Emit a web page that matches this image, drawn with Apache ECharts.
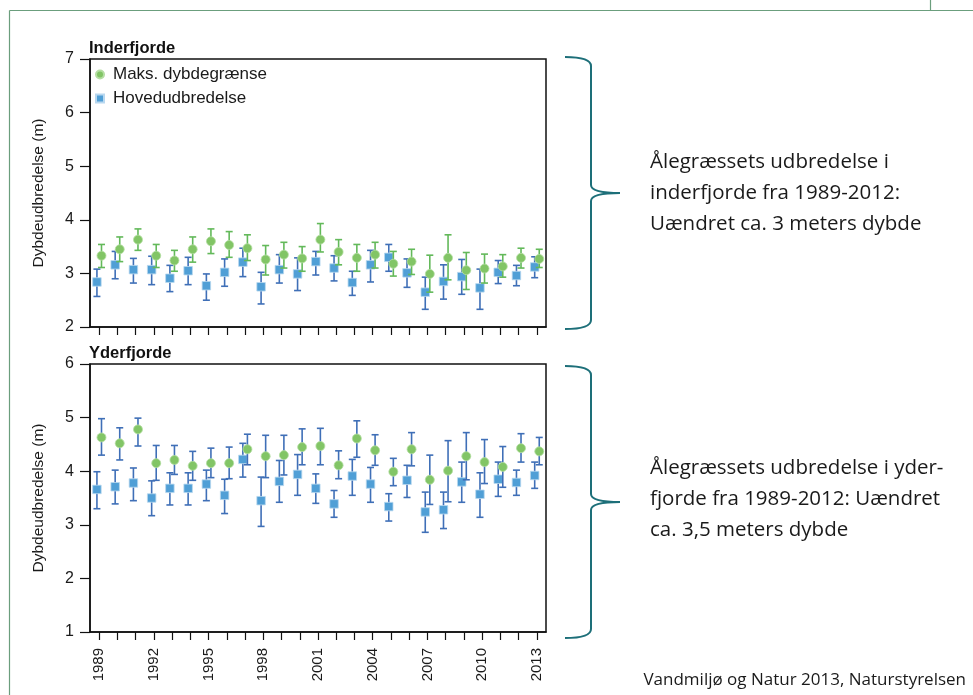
<!DOCTYPE html>
<html>
<head>
<meta charset="utf-8">
<script src="https://cdn.jsdelivr.net/npm/echarts@6/dist/echarts.min.js"></script>
<style>
html,body{margin:0;padding:0;background:#fff;}
#chart{width:973px;height:695px;}
</style>
</head>
<body>
<div id="chart"></div>
<script>
// ---- Data ----
var years = [1989,1990,1991,1992,1993,1994,1995,1996,1997,1998,1999,2000,2001,2002,2003,2004,2005,2006,2007,2008,2009,2010,2011,2012,2013];
var yearLabels = [1989,1992,1995,1998,2001,2004,2007,2010,2013];
var seriesNames = ['Maks. dybdegrænse','Hovedudbredelse'];
var panelTitles = ['Inderfjorde','Yderfjorde'];

// Inderfjorde – Maks. dybdegrænse
var innerMaxMean = [3.33,3.45,3.63,3.33,3.24,3.45,3.60,3.53,3.47,3.26,3.35,3.28,3.63,3.40,3.29,3.35,3.18,3.22,2.99,3.29,3.06,3.09,3.13,3.29,3.27];
var innerMaxLow  = [3.11,3.22,3.43,3.11,3.04,3.21,3.37,3.30,3.24,2.97,3.10,3.04,3.40,3.16,3.04,3.10,2.95,2.98,2.65,2.88,2.70,2.82,2.93,3.10,3.11];
var innerMaxHigh = [3.54,3.68,3.83,3.54,3.43,3.68,3.83,3.78,3.72,3.52,3.58,3.50,3.93,3.63,3.54,3.58,3.41,3.45,3.34,3.72,3.39,3.36,3.35,3.47,3.45];
// Inderfjorde – Hovedudbredelse
var innerMainMean = [2.84,3.16,3.07,3.07,2.91,3.05,2.77,3.02,3.21,2.75,3.07,2.99,3.22,3.10,2.83,3.16,3.30,3.01,2.65,2.85,2.94,2.73,3.02,2.96,3.12];
var innerMainLow  = [2.57,2.90,2.82,2.79,2.66,2.79,2.50,2.76,2.94,2.43,2.82,2.68,2.97,2.86,2.59,2.84,3.04,2.74,2.33,2.52,2.61,2.33,2.81,2.77,2.92];
var innerMainHigh = [3.08,3.41,3.28,3.32,3.15,3.30,2.99,3.27,3.47,3.02,3.35,3.29,3.41,3.33,3.04,3.43,3.54,3.27,2.93,3.16,3.26,3.08,3.24,3.15,3.31];
// Yderfjorde – Maks. dybdegrænse
var outerMaxMean = [4.63,4.52,4.78,4.15,4.21,4.10,4.15,4.15,4.41,4.28,4.30,4.45,4.47,4.11,4.61,4.39,3.99,4.41,3.84,4.01,4.28,4.17,4.08,4.43,4.37];
var outerMaxLow  = [4.30,4.21,4.47,3.83,3.94,3.83,3.88,3.86,4.12,3.88,3.93,4.12,4.12,3.86,4.26,4.11,3.73,4.10,3.38,3.43,3.84,3.77,3.70,4.17,4.12];
var outerMaxHigh = [4.98,4.81,4.99,4.48,4.48,4.37,4.43,4.45,4.69,4.67,4.67,4.79,4.80,4.38,4.94,4.68,4.24,4.72,4.30,4.57,4.72,4.59,4.46,4.70,4.63];
// Yderfjorde – Hovedudbredelse
var outerMainMean = [3.66,3.71,3.78,3.50,3.68,3.68,3.76,3.55,4.22,3.45,3.81,3.94,3.68,3.39,3.91,3.76,3.34,3.83,3.24,3.28,3.80,3.57,3.85,3.79,3.92];
var outerMainLow  = [3.30,3.39,3.45,3.17,3.37,3.37,3.45,3.21,3.89,2.97,3.42,3.55,3.40,3.14,3.55,3.42,3.07,3.51,2.86,2.93,3.42,3.14,3.53,3.55,3.68];
var outerMainHigh = [3.99,4.02,4.06,3.82,3.97,3.97,4.02,3.85,4.52,3.89,4.20,4.31,3.95,3.64,4.22,4.07,3.58,4.11,3.61,3.61,4.17,3.97,4.17,4.02,4.17];

// ---- Styling ----
var FONT = '"Liberation Sans", Arial, sans-serif';
var GREEN = '#82c566';
var GREEN_BAR = '#63b95a';
var BLUE = '#509fd6';
var BLUE_BAR = '#3f6fb7';
var OFF_MAX = 0.13, OFF_MAIN = -0.12;

function errSeries(idx, lows, highs, offset, color, z) {
  return {
    type: 'custom', xAxisIndex: idx, yAxisIndex: idx, silent: true, z: z,
    data: years.map(function (y, i) { return [y + offset, lows[i], highs[i]]; }),
    encode: { x: 0, y: [1, 2] },
    renderItem: function (params, api) {
      var x = api.value(0);
      var lo = api.coord([x, api.value(1)]);
      var hi = api.coord([x, api.value(2)]);
      var hw = 3.5;
      var st = { stroke: color, lineWidth: 1.6 };
      return { type: 'group', children: [
        { type: 'line', shape: { x1: lo[0], y1: lo[1], x2: hi[0], y2: hi[1] }, style: st },
        { type: 'line', shape: { x1: lo[0] - hw, y1: lo[1], x2: lo[0] + hw, y2: lo[1] }, style: st },
        { type: 'line', shape: { x1: hi[0] - hw, y1: hi[1], x2: hi[0] + hw, y2: hi[1] }, style: st }
      ]};
    }
  };
}
function ptSeries(idx, name, means, offset, symbol, size, color, z) {
  return {
    type: 'scatter', name: name, xAxisIndex: idx, yAxisIndex: idx, z: z,
    symbol: symbol, symbolSize: size,
    itemStyle: { color: color, borderColor: symbol === 'rect' ? '#b9d8ef' : '#b5dea3', borderWidth: 0.8, opacity: 1 },
    data: years.map(function (y, i) { return [y + offset, means[i]]; })
  };
}
function xAxis(idx, showLabels) {
  return {
    type: 'value', gridIndex: idx, min: 1988.5, max: 2013.5,
    axisLine: { show: true, onZero: false, lineStyle: { color: '#111', width: 1.5 } },
    axisTick: { show: true, customValues: years, length: 8, lineStyle: { color: '#111', width: 1.2 } },
    axisLabel: { show: showLabels, customValues: yearLabels, rotate: 90, margin: 16,
      fontSize: 15, color: '#1a1a1a', fontFamily: FONT,
      formatter: function (v) { return String(Math.round(v)); } },
    splitLine: { show: false }
  };
}
function yAxis(idx, mn, mx) {
  return {
    type: 'value', gridIndex: idx, min: mn, max: mx, interval: 1,
    name: 'Dybdeudbredelse (m)', nameLocation: 'middle', nameGap: 43,
    nameTextStyle: { fontSize: 15.5, color: '#1a1a1a', fontFamily: FONT },
    axisLine: { show: true, onZero: false, lineStyle: { color: '#111', width: 1.5 } },
    axisTick: { show: true, length: 10, lineStyle: { color: '#111', width: 1.2 } },
    axisLabel: { margin: 16, fontSize: 16, color: '#1a1a1a', fontFamily: FONT },
    splitLine: { show: false }
  };
}

var TEAL = '#1d6f79';
function brace(top, bottom, mid) {
  var st = { stroke: TEAL, lineWidth: 2, fill: null };
  var xv = 591, xl = 565, xt = 620;
  return { type: 'group', silent: true, children: [
    { type: 'bezierCurve', shape: { x1: xl, y1: top, cpx1: xv, cpy1: top, x2: xv, y2: top + 9 }, style: st },
    { type: 'line', shape: { x1: xv, y1: top + 9, x2: xv, y2: mid - 8 }, style: st },
    { type: 'bezierCurve', shape: { x1: xv, y1: mid - 8, cpx1: xv, cpy1: mid, x2: xt, y2: mid }, style: st },
    { type: 'bezierCurve', shape: { x1: xt, y1: mid, cpx1: xv, cpy1: mid, x2: xv, y2: mid + 8 }, style: st },
    { type: 'line', shape: { x1: xv, y1: mid + 8, x2: xv, y2: bottom - 9 }, style: st },
    { type: 'bezierCurve', shape: { x1: xv, y1: bottom - 9, cpx1: xv, cpy1: bottom, x2: xl, y2: bottom }, style: st }
  ]};
}
var SIDE_FONT = '"Open Sans", "Noto Sans", sans-serif';
function sideText(x, y, txt, size) {
  return { type: 'text', x: x, y: y, silent: true,
    style: { text: txt, fill: '#1a1a1a', font: size + 'px ' + SIDE_FONT, textVerticalAlign: 'middle' } };
}

var option = {
  animation: false,
  backgroundColor: '#fff',
  textStyle: { fontFamily: FONT },
  title: [
    { text: panelTitles[0], left: 89, top: 40, padding: 0,
      textStyle: { fontSize: 16.5, fontWeight: 'bold', color: '#111', fontFamily: FONT } },
    { text: panelTitles[1], left: 89, top: 345, padding: 0,
      textStyle: { fontSize: 16.5, fontWeight: 'bold', color: '#111', fontFamily: FONT } }
  ],
  legend: {
    orient: 'vertical', left: 95, top: 66, padding: 0, itemGap: 7,
    itemWidth: 8, itemHeight: 8, selectedMode: false,
    textStyle: { fontSize: 17, color: '#1a1a1a', fontFamily: FONT, lineHeight: 17, padding: [0, 0, 0, 4] },
    data: [
      { name: seriesNames[0], icon: 'circle', itemStyle: { color: GREEN } },
      { name: seriesNames[1], icon: 'rect', itemStyle: { color: BLUE } }
    ]
  },
  grid: [
    { left: 90, top: 59, width: 456, height: 268, show: true, borderColor: '#111', borderWidth: 1.5, backgroundColor: 'transparent' },
    { left: 90, top: 364, width: 456, height: 268, show: true, borderColor: '#111', borderWidth: 1.5, backgroundColor: 'transparent' }
  ],
  xAxis: [xAxis(0, false), xAxis(1, true)],
  yAxis: [yAxis(0, 2, 7), yAxis(1, 1, 6)],
  series: [
    errSeries(0, innerMainLow, innerMainHigh, OFF_MAIN, BLUE_BAR, 2),
    ptSeries(0, seriesNames[1], innerMainMean, OFF_MAIN, 'rect', 8.5, BLUE, 3),
    errSeries(0, innerMaxLow, innerMaxHigh, OFF_MAX, GREEN_BAR, 4),
    ptSeries(0, seriesNames[0], innerMaxMean, OFF_MAX, 'circle', 9, GREEN, 5),
    errSeries(1, outerMainLow, outerMainHigh, OFF_MAIN, BLUE_BAR, 2),
    ptSeries(1, seriesNames[1], outerMainMean, OFF_MAIN, 'rect', 8.5, BLUE, 3),
    errSeries(1, outerMaxLow, outerMaxHigh, OFF_MAX, BLUE_BAR, 4),
    ptSeries(1, seriesNames[0], outerMaxMean, OFF_MAX, 'circle', 9, GREEN, 5)
  ],
  graphic: [
    { type: 'line', silent: true, shape: { x1: 9.5, y1: 10.5, x2: 973, y2: 10.5 }, style: { stroke: '#6b9e7d', lineWidth: 1.2 } },
    { type: 'line', silent: true, shape: { x1: 9.5, y1: 10.5, x2: 9.5, y2: 695 }, style: { stroke: '#6b9e7d', lineWidth: 1.2 } },
    { type: 'line', silent: true, shape: { x1: 930.5, y1: 0, x2: 930.5, y2: 10.5 }, style: { stroke: '#6b9e7d', lineWidth: 1.2 } },
    brace(57, 329, 193),
    brace(366, 638, 502),
    sideText(650, 162, 'Ålegræssets udbredelse i', 20.5),
    sideText(650, 193, 'inderfjorde fra 1989-2012:', 20.5),
    sideText(650, 224, 'Uændret ca. 3 meters dybde', 20.5),
    sideText(650, 468, 'Ålegræssets udbredelse i yder-', 20.5),
    sideText(650, 499, 'fjorde fra 1989-2012: Uændret', 20.5),
    sideText(650, 530, 'ca. 3,5 meters dybde', 20.5),
    { type: 'text', silent: true, x: 966, y: 680,
      style: { text: 'Vandmiljø og Natur 2013, Naturstyrelsen', fill: '#1a1a1a', font: '17px ' + SIDE_FONT,
        textAlign: 'right', textVerticalAlign: 'middle' } }
  ]
};
var chart = echarts.init(document.getElementById('chart'), null, { renderer: 'canvas' });
chart.setOption(option);
</script>
</body>
</html>
